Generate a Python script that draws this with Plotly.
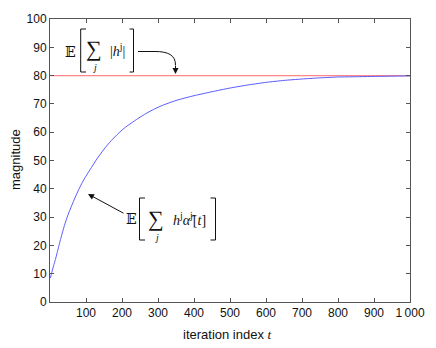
import plotly.graph_objects as go

# ---- data ----
t_vals = [1, 5, 10, 15, 20, 30, 40, 50, 60, 70, 80, 90, 100, 115, 130, 150, 170, 190,
          210, 230, 250, 275, 300, 325, 350, 375, 400, 450, 500, 550, 600, 650, 700,
          750, 800, 850, 900, 950, 1000]
mag_vals = [8.5, 10.5, 12.8, 15, 17.5, 22.5, 27, 30.8, 34, 37, 39.8, 42.3, 44.5, 47.5,
            50.5, 54, 57, 59.6, 61.8, 63.6, 65.3, 67.2, 68.8, 70.1, 71.2, 72.1, 72.9,
            74.3, 75.6, 76.7, 77.6, 78.3, 78.8, 79.2, 79.5, 79.6, 79.7, 79.8, 79.9]
bound_t = [1, 1000]
bound_val = [80, 80]

x_tickvals = [100, 200, 300, 400, 500, 600, 700, 800, 900, 1000]
x_ticktext = ["100", "200", "300", "400", "500", "600", "700", "800", "900", "1\u2009000"]
y_tickvals = [0, 10, 20, 30, 40, 50, 60, 70, 80, 90, 100]

W, H = 436, 348
L, R, T, B = 50, 26, 19, 46
PW, PH = W - L - R, H - T - B


def px(x):
    return (x - L) / PW


def py(y):
    return (H - B - y) / PH


fig = go.Figure()
fig.add_trace(go.Scatter(x=bound_t, y=bound_val, mode="lines",
                         line=dict(color="rgb(255,135,135)", width=1.2), hoverinfo="skip"))
fig.add_trace(go.Scatter(x=t_vals, y=mag_vals, mode="lines", line_shape="spline",
                         line=dict(color="rgb(90,90,255)", width=1, smoothing=0.6),
                         hoverinfo="skip"))

sans = "Liberation Sans, Arial, sans-serif"
axis_common = dict(showline=True, linecolor="#555", linewidth=1, mirror="ticks",
                   ticks="inside", ticklen=4, tickcolor="#555", showgrid=False, zeroline=False,
                   tickfont=dict(family=sans, size=12, color="#111"),
                   ticklabelstandoff=0, automargin=False)
fig.update_xaxes(range=[0, 1000], tickvals=x_tickvals, ticktext=x_ticktext, **axis_common)
fig.update_yaxes(range=[0, 100], tickvals=y_tickvals, **axis_common)

serif = "Liberation Serif, DejaVu Serif, serif"
ann = []
shapes = []


def txt(x, y, s, size=13, family=serif, angle=0):
    ann.append(dict(x=px(x), y=py(y), xref="paper", yref="paper", text=s, showarrow=False,
                    font=dict(family=family, size=size, color="#111"), textangle=angle,
                    xanchor="center", yanchor="middle"))


def bracket(xv, xs, y0, y1):
    shapes.append(dict(type="path", xref="paper", yref="paper",
                       path=f"M {px(xs)} {py(y0)} L {px(xv)} {py(y0)} L {px(xv)} {py(y1)} L {px(xs)} {py(y1)}",
                       line=dict(color="#111", width=1)))


# axis titles
txt(227, 334, "iteration index <span style='font-family:Liberation Serif'><i>t</i></span>",
    size=13, family=sans)
txt(15, 160, "magnitude", size=13, family=sans, angle=-90)

# label 1: E[ sum_j |h^j| ]
txt(70, 52, "𝔼", size=14)
bracket(80.7, 86, 29, 72)
txt(94, 49, "∑", size=22)
txt(94.5, 67, "<i>j</i>", size=10)
txt(117, 50, "|<i>h</i><sup>j</sup>|", size=14)
bracket(133.5, 129.5, 29, 72)

# label 2: E[ sum_j h^j alpha-hat^j[t] ]
txt(131, 219, "𝔼", size=14)
bracket(139.5, 145, 198, 240)
txt(156, 218, "∑", size=22)
txt(156, 237, "<i>j</i>", size=10)
txt(189, 219, "<i>h</i><sup>j</sup><i>α̂</i><sup>j</sup>[<i>t</i>]", size=14)
bracket(215.5, 210.5, 198, 240)

# curved arrow for label 1
shapes.append(dict(type="path", xref="paper", yref="paper",
                   path=f"M {px(138)} {py(51.5)} L {px(155)} {py(51.5)} "
                        f"C {px(168)} {py(51.5)}, {px(175.5)} {py(55)}, {px(175.5)} {py(65)}",
                   line=dict(color="#111", width=1)))
ann.append(dict(x=px(175.5), y=py(74), xref="paper", yref="paper", text="", showarrow=True,
                ax=0, ay=-10, arrowhead=2, arrowsize=1.2, arrowwidth=1, arrowcolor="#111"))
# straight arrow for label 2
ann.append(dict(x=px(88), y=py(194), xref="paper", yref="paper", text="", showarrow=True,
                ax=37, ay=20, arrowhead=2, arrowsize=1.2, arrowwidth=1, arrowcolor="#111"))

fig.update_layout(width=W, height=H, margin=dict(l=L, r=R, t=T, b=B),
                  paper_bgcolor="white", plot_bgcolor="white", showlegend=False,
                  annotations=ann, shapes=shapes)
fig.write_html("out.html", config={"displayModeBar": False},
               post_script="document.body.style.margin='0';document.body.style.overflow='hidden';")
